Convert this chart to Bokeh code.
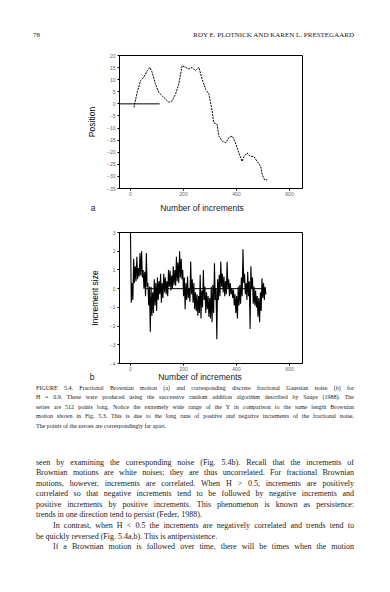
from bokeh.plotting import figure
from bokeh.layouts import column
from bokeh.models import Range1d, FixedTicker, Div
from bokeh.embed import file_html
from bokeh.resources import INLINE

# ---------------- data ----------------
# (a) fractional Brownian motion, position vs number of increments
pos_x = [13, 25, 38, 50, 63, 73, 82, 94, 107, 120, 132, 145, 157, 170, 182, 195,
         208, 220, 233, 245, 258, 270, 283, 296, 308, 314, 327, 333, 346, 359, 371,
         384, 396, 409, 421, 428, 440, 453, 465, 478, 491, 497, 506, 516]
pos_y = [-1.5, 4.7, 9.6, 11.0, 13.7, 15.1, 13.0, 8.2, 4.7, 3.3, 2.0, 0.6, 1.3, 4.0,
         8.2, 15.8, 15.1, 14.4, 15.1, 13.7, 15.1, 10.3, 6.1, 4.0, -2.9, -7.8, -8.5,
         -13.3, -15.4, -16.1, -14.0, -13.3, -16.1, -20.3, -23.8, -21.7, -20.3, -21.7,
         -21.7, -23.8, -25.8, -29.3, -31.4, -31.4]

# (b) fractional Gaussian noise, increment size (read as high/low strokes)
inc_y = [3.0, -0.75, 0.3, -0.6, 1.6, 0.3, 1.2, 0.4, 1.7, 0.5, 1.1, 0.65, 1.9, 0.7,
         2.0, 0.6, 1.0, 0.0, 0.9, -0.4, 1.9, 0.1, 0.3, -0.9, 0.1, -2.3, 0.1, -1.45,
         -0.2, -1.3, 0.5, -0.9, 0.3, -1.2, 0.6, -0.6, 0.4, -0.3, 0.8, -0.75, 0.3, -0.5,
         0.8, -0.2, 0.6, -0.3, 0.4, -0.4, 1.0, 0.1, 0.95, -0.1, 0.7, 0.0, 1.2, 0.2,
         1.0, 0.15, 1.7, 0.4, 1.4, 0.3, 2.0, 0.6, 1.6, 0.5, 1.0, -0.4, 0.6, -1.1,
         0.3, -0.6, 0.65, -0.5, 0.0, -0.7, 1.45, -0.3, 0.5, -0.75, 0.3, -1.1, -0.2, -1.2,
         -0.3, -1.45, -0.4, -1.3, 0.74, -1.6, -0.1, -1.0, 1.0, -0.6, 0.1, -1.3, -0.2, -1.1,
         -0.4, -1.5, -0.5, -1.6, 0.1, -1.8, 0.2, -1.3, 1.35, -0.6, 0.0, -2.7, 0.5, -0.6,
         0.74, -0.4, 1.45, 0.1, 0.8, -0.2, 0.65, -0.4, 0.4, -0.3, 1.44, 0.0, 0.5, -0.4,
         0.3, -0.3, 0.0, -0.5, -0.05, -0.9, -0.3, -1.3, -0.4, -1.6, 0.1, -0.9, 0.2, -0.8,
         0.6, -0.4, 2.1, 0.3, 0.8, -0.3, 0.3, -0.6, 0.9, -0.4, 0.4, -2.15, 1.2, 0.0,
         0.6, -0.8, 0.1, -0.9, -0.1, -1.0, -0.4, -1.5, -0.5, -1.8, -0.2, -1.2, 0.56, -0.5,
         0.3, -0.6, 0.1, -0.3]
inc_x = [i * 511.0 / (len(inc_y) - 1) for i in range(len(inc_y))]

x_ticks = [0, 200, 400, 600]
ya_ticks = [20, 15, 10, 5, 0, -5, -10, -15, -20, -25, -30, -35]
yb_ticks = [3, 2, 1, 0, -1, -2, -3, -4]
zero_a_x = [-41.5, 110]
zero_b_x = [56, 510]

header_left = "78"
header_right = "ROY E. PLOTNICK AND KAREN L. PRESTEGAARD"
x_title = "Number of increments"
panel_a = "a"
panel_b = "b"
caption_lines = [
    "FIGURE 5.4. Fractional Brownian motion (a) and corresponding discrete fractional Gaussian noise (b) for",
    "H = 0.9. These were produced using the successive random addition algorithm described by Saupe (1988). The",
    "series are 512 points long. Notice the extremely wide range of the Y in comparison to the same length Brownian",
    "motion shown in Fig. 5.3. This is due to the long runs of positive and negative increments of the fractional noise.",
    "The points of the zeroes are correspondingly far apart.",
]
# (text, indented, justified)
body_lines = [
    ("seen by examining the corresponding noise (Fig. 5.4b). Recall that the increments of", False, True),
    ("Brownian motions are white noises; they are thus uncorrelated. For fractional Brownian", False, True),
    ("motions, however, increments are correlated. When H > 0.5, increments are positively", False, True),
    ("correlated so that negative increments tend to be followed by negative increments and", False, True),
    ("positive increments by positive increments. This phenomenon is known as persistence:", False, True),
    ("trends in one direction tend to persist (Feder, 1988).", False, False),
    ("In contrast, when H < 0.5 the increments are negatively correlated and trends tend to", True, True),
    ("be quickly reversed (Fig. 5.4a,b). This is antipersistence.", False, False),
    ("If a Brownian motion is followed over time, there will be times when the motion", True, True),
]

W = 374
SANS = "Liberation Sans"
SERIF = "Liberation Serif"
TEXT_LEFT = 36
TEXT_RIGHT = 354
NOMARGIN = (0, 0, 0, 0)


def esc(s):
    return s.replace("&", "&amp;").replace("<", "&lt;").replace(">", "&gt;")


def abs_text(text, left, top, width, size, lh, align, family, extra=""):
    return (f'<div style="position:absolute;left:{left}px;top:{top}px;width:{width}px;'
            f'font-family:\'{family}\';font-size:{size}px;line-height:{lh}px;white-space:nowrap;'
            f'text-align:{align};text-align-last:{align};{extra}">{esc(text)}</div>')


def box(inner, h):
    return (f'<div style="position:relative;width:{W}px;height:{h}px;color:#1a1a1a;">'
            + "".join(inner) + '</div>')


def style_plot(p, yticks):
    p.grid.visible = False
    p.outline_line_color = "black"
    p.outline_line_width = 1
    p.xaxis.ticker = FixedTicker(ticks=x_ticks)
    p.yaxis.ticker = FixedTicker(ticks=yticks)
    for ax in (p.xaxis, p.yaxis):
        ax.axis_line_color = "black"
        ax.major_tick_line_color = "black"
        ax.major_tick_out = 2
        ax.major_tick_in = 0
        ax.minor_tick_line_color = None
        ax.major_label_text_font = SANS
        ax.major_label_text_font_size = "5px"
        ax.major_label_text_color = "#666666"
        ax.major_label_standoff = 2
        ax.axis_label_text_font = SANS
        ax.axis_label_text_font_size = "8.5px"
        ax.axis_label_text_font_style = "normal"
        ax.axis_label_text_color = "black"
    p.xaxis.major_label_standoff = 1


# ---------------- header (page y 0..48) ----------------
hdr = Div(text=box([
    abs_text(header_left, 33, 31, 30, 6.8, 8, "left", SERIF),
    abs_text(header_right, 150, 31, TEXT_RIGHT - 150, 7, 8, "right", SERIF),
], 48), width=W, height=48, margin=NOMARGIN)

# ---------------- plot a (page y 48..200) ----------------
pa = figure(width=W, height=152, x_range=Range1d(-41.5, 649), y_range=Range1d(-35, 20),
            output_backend="svg", toolbar_location=None,
            min_border_left=119, min_border_right=W - 302, min_border_top=7, min_border_bottom=12)
style_plot(pa, ya_ticks)
pa.yaxis.axis_label = "Position"
pa.yaxis.axis_label_standoff = 7
pa.line(zero_a_x, [0, 0], line_color="black", line_width=1)
pa.line(pos_x, pos_y, line_color="black", line_width=1, line_dash="2 1")

# ---------------- panel a x title (page y 200..218) ----------------
a_div = Div(text=box([
    abs_text(panel_a, 87, 3, 12, 8.5, 10, "center", SANS),
    abs_text(x_title, 142, 3, 120, 8.5, 10, "center", SANS),
], 18), width=W, height=18, margin=NOMARGIN)

# ---------------- plot b (page y 218..373) ----------------
pb = figure(width=W, height=155, x_range=Range1d(-41.5, 649), y_range=Range1d(-4, 3),
            output_backend="svg", toolbar_location=None,
            min_border_left=119, min_border_right=W - 302, min_border_top=14, min_border_bottom=8)
style_plot(pb, yb_ticks)
pb.yaxis.axis_label = "Increment size"
pb.yaxis.axis_label_standoff = 7
pb.line(zero_b_x, [0, 0], line_color="black", line_width=1)
pb.line(inc_x, inc_y, line_color="black", line_width=1.1)

# ---------------- panel b x title, caption and body (page y 373..584) ----------------
parts = [
    abs_text(panel_b, 86, 0, 12, 8.5, 8, "center", SANS),
    abs_text(x_title, 140, 0, 120, 8.5, 8, "center", SANS),
]
for i, t in enumerate(caption_lines):
    al = "justify" if i < len(caption_lines) - 1 else "left"
    parts.append(abs_text(t, TEXT_LEFT, round(10.5 + 9.5 * i, 1), TEXT_RIGHT - TEXT_LEFT,
                          6, 9.5, al, SERIF))
for i, (t, ind, just) in enumerate(body_lines):
    left = TEXT_LEFT + (17 if ind else 0)
    parts.append(abs_text(t, left, round(84.7 + 10.55 * i, 1), TEXT_RIGHT - left,
                          8, 10.6, "justify" if just else "left", SERIF))
txt = Div(text=box(parts, 211), width=W, height=211, margin=NOMARGIN)

layout = column(hdr, pa, a_div, pb, txt, spacing=0)
open("out.html", "w").write(file_html(layout, INLINE))
